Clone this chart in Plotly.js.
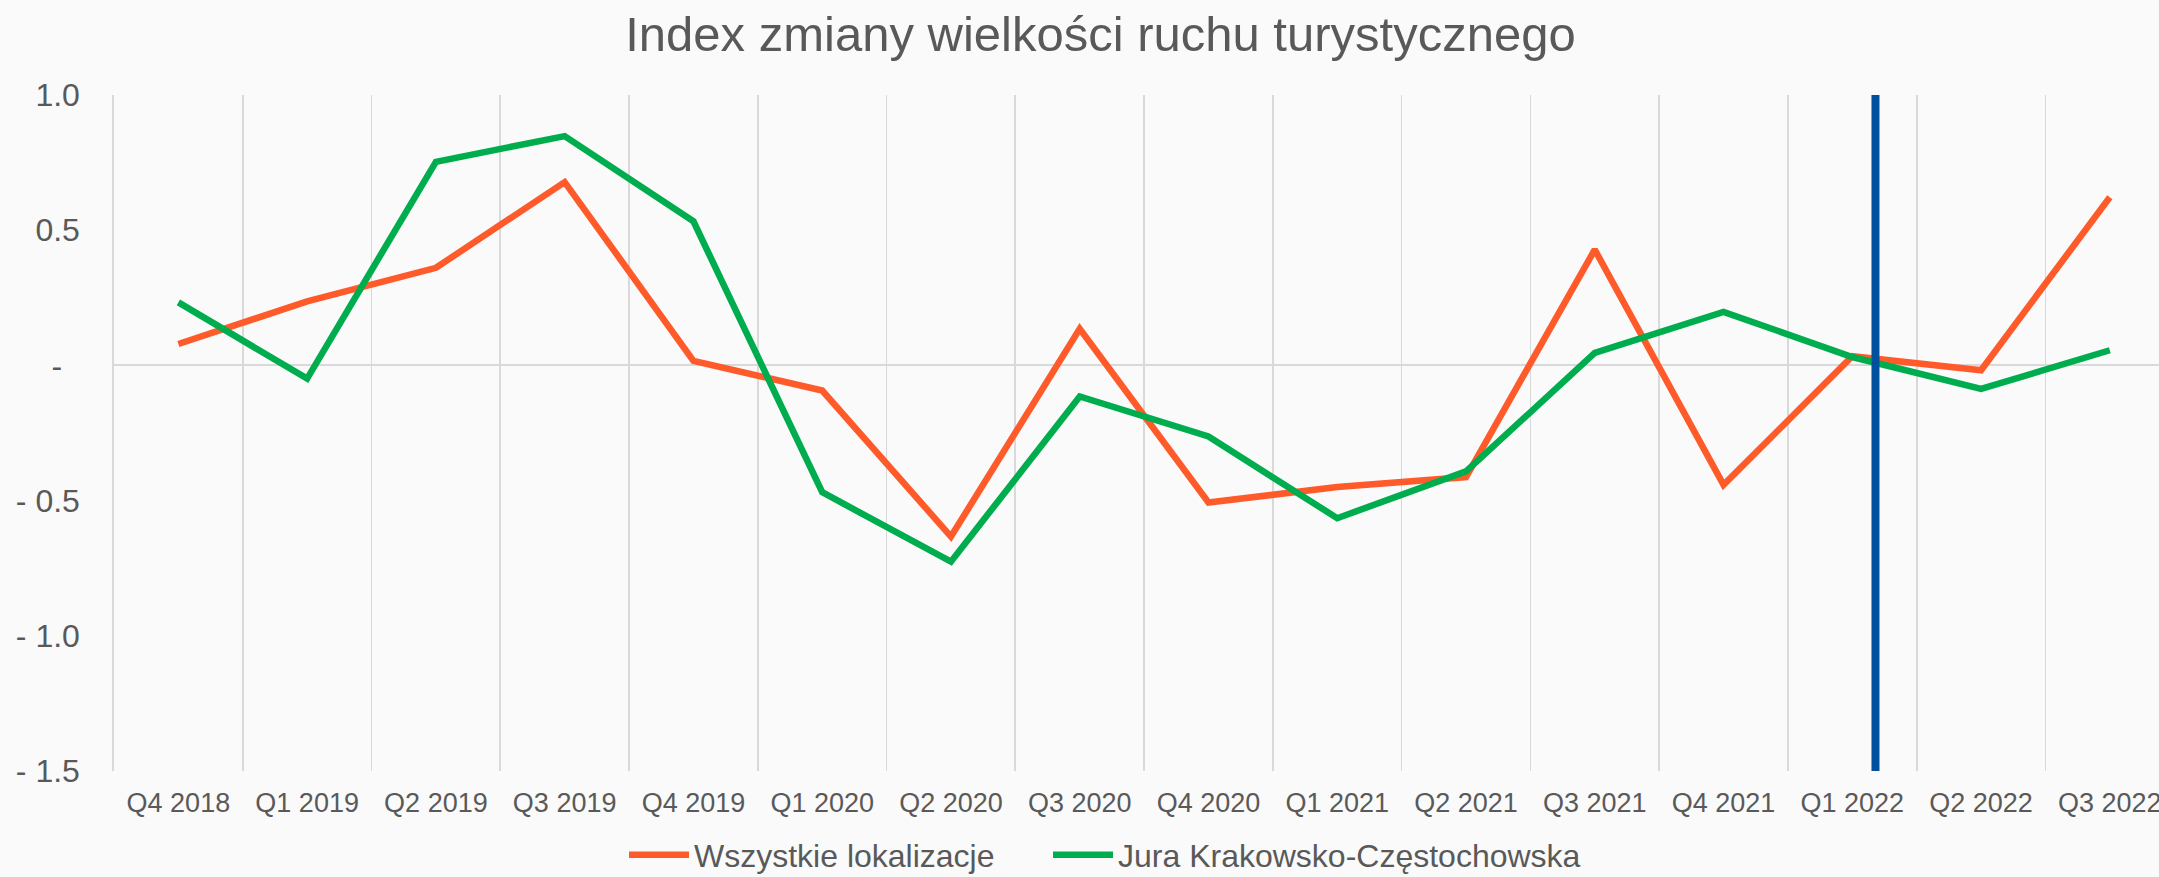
<!DOCTYPE html>
<html>
<head>
<meta charset="utf-8">
<script src="https://cdn.plot.ly/plotly-3.0.1.min.js"></script>
<style>html,body{margin:0;padding:0;background:#fafafa;}#chart{width:2159px;height:877px;}</style>
</head>
<body>
<div id="chart"></div>
<script>
const categories = ["Q4 2018","Q1 2019","Q2 2019","Q3 2019","Q4 2019","Q1 2020","Q2 2020","Q3 2020","Q4 2020","Q1 2021","Q2 2021","Q3 2021","Q4 2021","Q1 2022","Q2 2022","Q3 2022"];
const wszystkie = [0.079, 0.237, 0.361, 0.678, 0.017, -0.093, -0.633, 0.135, -0.507, -0.45, -0.413, 0.428, -0.442, 0.034, -0.018, 0.622];
const jura = [0.233, -0.049, 0.753, 0.848, 0.533, -0.469, -0.726, -0.115, -0.263, -0.565, -0.392, 0.046, 0.198, 0.031, -0.087, 0.056];
const seriesNames = ["Wszystkie lokalizacje", "Jura Krakowsko-Częstochowska"];
const yTickVals = [1.0, 0.5, 0, -0.5, -1.0, -1.5];
const yTickText = ["1.0", "0.5", "-\u00a0\u00a0", "- 0.5", "- 1.0", "- 1.5"];
const markerPosition = 13.18; // vertical marker near Q1 2022

const font = "Liberation Sans, Arial, sans-serif";
const textColor = "#595959";

const traces = [
  {x: categories, y: wszystkie, name: seriesNames[0], type: "scatter", mode: "lines", legend: "legend",
   line: {color: "#FF5A2A", width: 6.5}},
  {x: categories, y: jura, name: seriesNames[1], type: "scatter", mode: "lines", legend: "legend2",
   line: {color: "#00AD4E", width: 6.5}}
];

const legendBase = {orientation: "h", xref: "container", xanchor: "left", yref: "container", y: 1 - 855/877, yanchor: "middle",
  font: {family: font, size: 32, color: textColor}, itemwidth: 60, bgcolor: "rgba(0,0,0,0)"};

const layout = {
  width: 2159, height: 877,
  paper_bgcolor: "#fafafa", plot_bgcolor: "#fafafa",
  margin: {l: 114, r: 0, t: 95, b: 106},
  font: {family: font, color: textColor},
  title: {text: "Index zmiany wielkości ruchu turystycznego", font: {family: font, size: 49, color: textColor},
          xref: "container", x: 0.5097, xanchor: "center", yref: "container", y: 1 - 34/877, yanchor: "middle"},
  showlegend: true,
  legend: Object.assign({}, legendBase, {x: 624/2159}),
  legend2: Object.assign({}, legendBase, {x: 1048/2159}),
  xaxis: {type: "category", range: [-0.5, 15.382], tickson: "boundaries", showgrid: true, gridcolor: "#D9D9D9", gridwidth: 1.7,
          ticks: "", tickfont: {family: font, size: 27, color: textColor}, ticklabelstandoff: 13, showline: false, zeroline: false, fixedrange: true},
  yaxis: {range: [-1.5, 1.0], tickvals: yTickVals, ticktext: yTickText, showgrid: false, zeroline: true, zerolinecolor: "#D9D9D9", zerolinewidth: 2,
          showline: true, linecolor: "#D9D9D9", linewidth: 1.7, ticks: "", tickfont: {family: font, size: 32, color: textColor}, ticklabelstandoff: 26, fixedrange: true},
  shapes: [{type: "line", xref: "x", yref: "y", x0: markerPosition, x1: markerPosition, y0: 1.005, y1: -1.533,
            line: {color: "#00509E", width: 8}, layer: "above"}],
  hovermode: false
};

Plotly.newPlot("chart", traces, layout, {staticPlot: true, displayModeBar: false});
</script>
</body>
</html>
